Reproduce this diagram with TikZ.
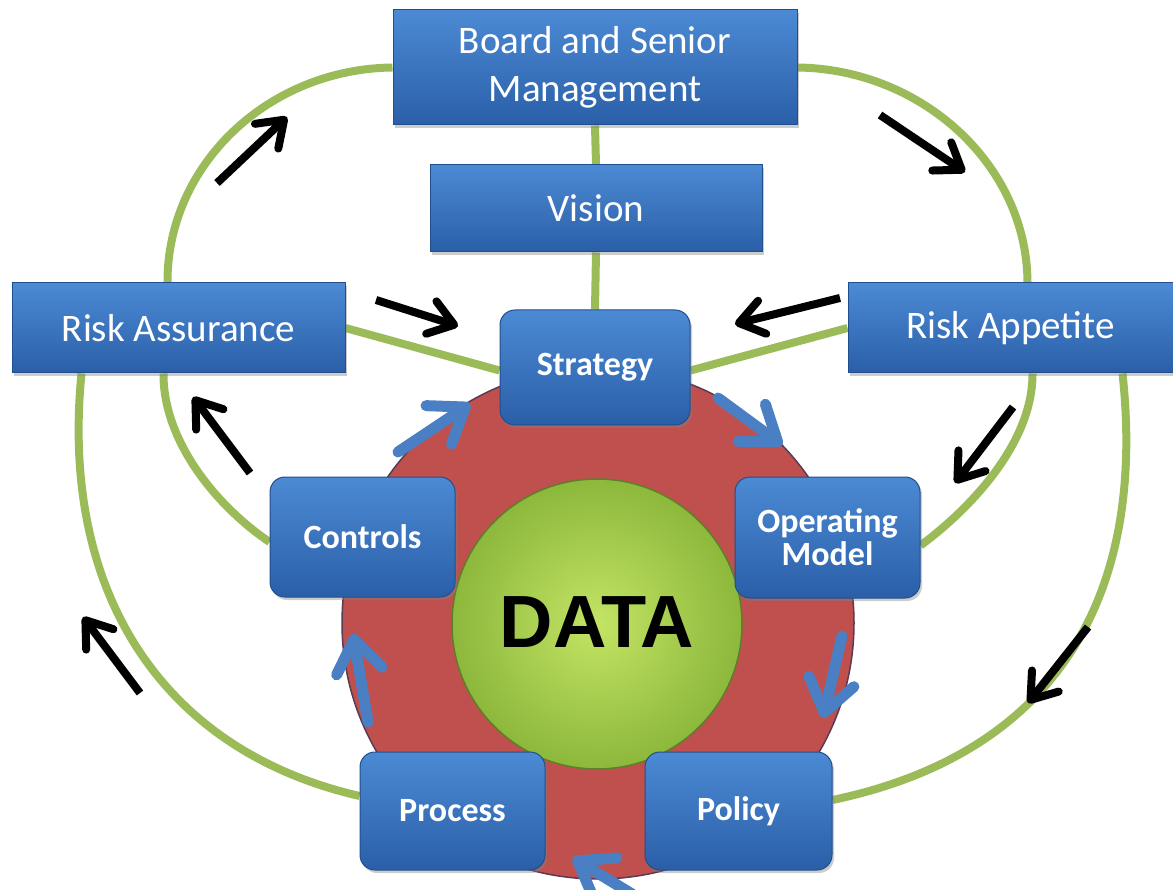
\documentclass[tikz,border=0pt]{standalone}
\usepackage{fontspec}
\setmainfont{Carlito}
\newfontfamily\datafont{Liberation Sans}
\usetikzlibrary{arrows.meta,shadows,backgrounds,calc}
\definecolor{boxtop}{HTML}{4C8AD4}
\definecolor{boxbot}{HTML}{2A5FA8}
\definecolor{boxedge}{HTML}{1F4F8E}
\definecolor{lgreen}{HTML}{9BBB59}
\definecolor{redc}{HTML}{C0504D}
\definecolor{rededge}{HTML}{5A3A55}
\definecolor{ballin}{HTML}{C4E464}
\definecolor{ballout}{HTML}{8CB83C}
\definecolor{balledge}{HTML}{5E7F2A}
\definecolor{arrblue}{HTML}{4A7FC4}
\begin{document}
\begin{tikzpicture}[x=1pt,y=-1pt,
  box/.style={draw=boxedge, line width=1pt, top color=boxtop, bottom color=boxbot,
    text=white, align=center, inner sep=0pt,
    drop shadow={opacity=0.4, shadow xshift=2pt, shadow yshift=-3pt},
    font=\fontsize{39}{48}\selectfont},
  sbox/.style={box, rounded corners=15pt, font=\bfseries\fontsize{34}{33}\selectfont},
  glink/.style={draw=lgreen, line width=8pt},
  karrow/.style={line width=8pt, black, -{Straight Barb[length=24pt,width=34pt,round]}},
  barrow/.style={line width=11pt, arrblue, line cap=round, -{Straight Barb[length=32pt,width=46pt,round]}}
]
\useasboundingbox (0,0) rectangle (1173,890);

% central circles
\fill[redc, draw=rededge, line width=1.5pt] (598,623) circle[radius=256];
\shade[inner color=ballin, outer color=ballout, draw=balledge, line width=1.5pt] (597,624) circle[radius=145];
\node (data) at (597,622) {\datafont\bfseries\fontsize{74}{74}\selectfont DATA};

% boxes
\node[box, minimum width=404, minimum height=115] (board) at (595,67.5) {Board and Senior\\Management};
\node[box, minimum width=332, minimum height=87] (vision) at (596,208.5) {Vision};
\node[box, minimum width=333, minimum height=90] (ra) at (178.5,328) {\raisebox{-4pt}{Risk Assurance}};
\node[box, minimum width=325, minimum height=90] (rap) at (1010.5,328) {\raisebox{-4pt}{Risk Appetite}};
\node[sbox, minimum width=190, minimum height=115] (strat) at (595,367.5) {Strategy};
\node[sbox, minimum width=185, minimum height=121] (om) at (827.5,537.5) {Operating\\Model};
\node[sbox, minimum width=185, minimum height=120] (ctrl) at (362.5,537) {Controls};
\node[sbox, minimum width=185, minimum height=118] (proc) at (452.5,811) {Process};
\node[sbox, minimum width=187, minimum height=118] (pol) at (738.5,811) {Policy};

% green connectors
\begin{pgfonlayer}{background}
\draw[glink] (board.west) .. controls (268,69) and (167,165) .. ($(ra.north)+(-11,0)$);
\draw[glink] (board.east) .. controls (922,69) and (1027,165) .. ($(rap.north)+(17,0)$);
\draw[glink] (board.south) -- (vision.north);
\draw[glink] (vision.south) -- (strat.north);
\draw[glink] (ra.east) -- ($(strat.west)+(0,3)$);
\draw[glink] (rap.west) -- ($(strat.east)+(0,3)$);
\draw[glink] ($(rap.south)+(22,0)$) .. controls (1033,440) and (975,505) .. ($(om.east)+(0,8)$);
\draw[glink] ($(rap.south)+(112,0)$) .. controls (1145,580) and (1070,750) .. ($(pol.east)+(0,-11)$);
\draw[glink] ($(ra.south)+(-15,0)$) .. controls (163,440) and (215,505) .. ($(ctrl.west)+(0,5)$);
\draw[glink] ($(ra.south)+(-97,0)$) .. controls (60,590) and (160,750) .. ($(proc.west)+(0,-15)$);
\end{pgfonlayer}

% black flow arrows
\coordinate (k1a) at (217,183); \coordinate (k1b) at (287,117);
\coordinate (k2a) at (880,115); \coordinate (k2b) at (965,172);
\coordinate (k3a) at (376,300); \coordinate (k3b) at (458,326);
\coordinate (k4a) at (840,298); \coordinate (k4b) at (735,324);
\coordinate (k5a) at (1013,407); \coordinate (k5b) at (955,483);
\coordinate (k6a) at (250,473); \coordinate (k6b) at (193,397);
\coordinate (k7a) at (1088,627); \coordinate (k7b) at (1028,703);
\coordinate (k8a) at (140,693); \coordinate (k8b) at (83,617);
\foreach \k in {1,...,8} {\draw[karrow] (k\k a) -- (k\k b);}

% blue cycle arrows
\coordinate (b1a) at (398,452); \coordinate (b1b) at (470,404);
\coordinate (b2a) at (718,398); \coordinate (b2b) at (782,445);
\coordinate (b3a) at (842,636); \coordinate (b3b) at (823,718);
\coordinate (b4a) at (632,894); \coordinate (b4b) at (573,858);
\coordinate (b5a) at (368,722); \coordinate (b5b) at (353,634);
\foreach \k in {1,...,5} {\draw[barrow] (b\k a) -- (b\k b);}
\end{tikzpicture}
\end{document}
